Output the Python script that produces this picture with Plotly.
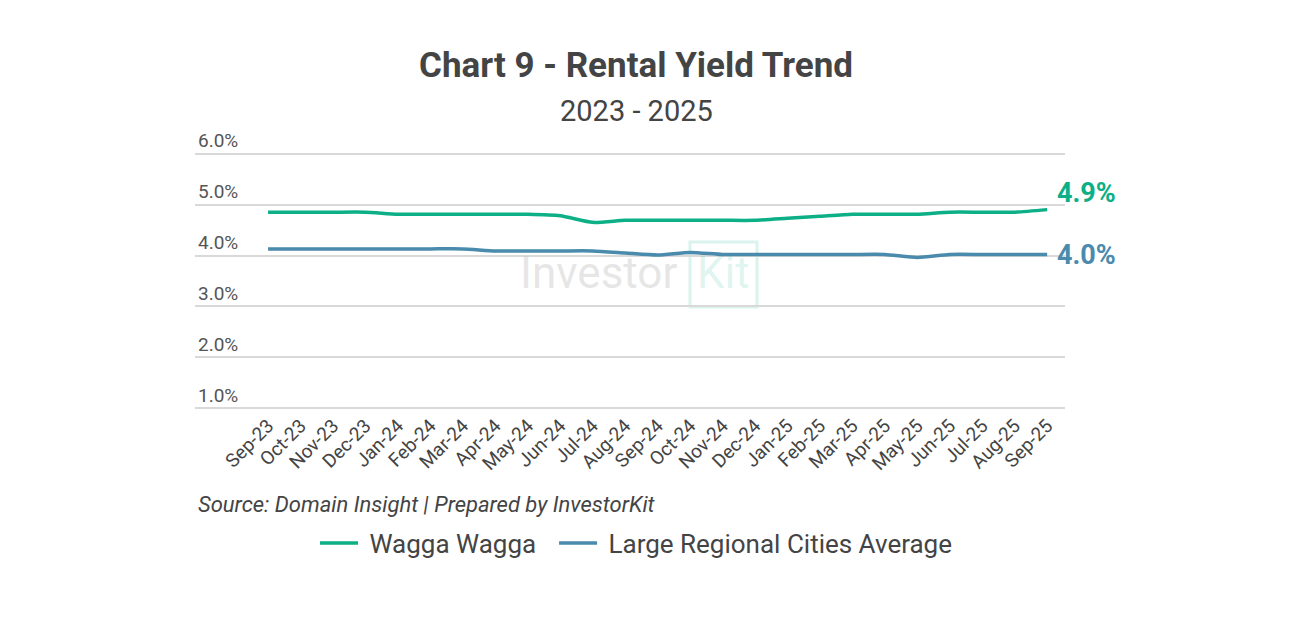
import plotly.graph_objects as go

months = ["Sep-23", "Oct-23", "Nov-23", "Dec-23", "Jan-24", "Feb-24", "Mar-24", "Apr-24",
          "May-24", "Jun-24", "Jul-24", "Aug-24", "Sep-24", "Oct-24", "Nov-24", "Dec-24",
          "Jan-25", "Feb-25", "Mar-25", "Apr-25", "May-25", "Jun-25", "Jul-25", "Aug-25", "Sep-25"]

wagga = [4.85, 4.85, 4.85, 4.85, 4.81, 4.81, 4.81, 4.81, 4.81, 4.78, 4.65, 4.69, 4.69,
         4.69, 4.69, 4.69, 4.73, 4.77, 4.81, 4.81, 4.81, 4.85, 4.85, 4.85, 4.9]

regional = [4.13, 4.13, 4.13, 4.13, 4.13, 4.13, 4.13, 4.09, 4.09, 4.09, 4.09, 4.05, 4.01,
            4.06, 4.02, 4.02, 4.02, 4.02, 4.02, 4.02, 3.96, 4.02, 4.02, 4.02, 4.02]

y_ticks = [1, 2, 3, 4, 5, 6]

GREEN = "#0CAF86"
BLUE = "#4A8BAD"
TEXT = "#444444"
FONT = "Roboto"
NB = "\u00a0"

# page offset (body margin) and figure size
OFF = 8
FW, FH = 1296 - 2 * OFF, 640 - 2 * OFF

# plot area in screen pixels
L, R, T, B = 195, 1065, 152, 410
W, H = R - L, B - T


def dx(px):
    return (px - L) / W


def dy(py):
    return (B - py) / H


fig = go.Figure()
fig.add_trace(go.Scatter(x=months, y=wagga, mode="lines", name=NB + "Wagga Wagga" + NB * 2,
                         line=dict(color=GREEN, width=3.5, shape="spline", smoothing=0.6)))
fig.add_trace(go.Scatter(x=months, y=regional, mode="lines",
                         name=NB + "Large Regional Cities Average",
                         line=dict(color=BLUE, width=3.5, shape="spline", smoothing=0.6)))

fig.add_annotation(x=months[-1], y=wagga[-1], text=f"<b>{wagga[-1]:.1f}%</b>", showarrow=False,
                   xanchor="left", xshift=8, yshift=17,
                   font=dict(family=FONT, size=27, color=GREEN))
fig.add_annotation(x=months[-1], y=regional[-1], text=f"<b>{regional[-1]:.1f}%</b>", showarrow=False,
                   xanchor="left", xshift=8, yshift=-1,
                   font=dict(family=FONT, size=27, color=BLUE))

# Watermark
fig.add_annotation(xref="x domain", yref="y domain", x=dx(598), y=dy(273), text="Investor",
                   showarrow=False, font=dict(family=FONT, size=44, color="rgba(200,200,200,0.45)"))
fig.add_annotation(xref="x domain", yref="y domain", x=dx(723), y=dy(273), text="Kit",
                   showarrow=False, font=dict(family=FONT, size=44, color="rgba(12,175,134,0.15)"))
fig.add_shape(type="rect", xref="x domain", yref="y domain",
              x0=dx(690), x1=dx(757), y0=dy(307), y1=dy(242),
              line=dict(color="rgba(12,175,134,0.15)", width=3), layer="below")

# Subtitle
fig.add_annotation(xref="x domain", yref="y domain", x=dx(636), y=dy(111),
                   text="2023 - 2025", showarrow=False, yanchor="middle",
                   font=dict(family=FONT, size=29, color=TEXT))

# Source
fig.add_annotation(xref="x domain", yref="y domain", x=dx(196), y=dy(504),
                   text="<i>Source: Domain Insight | Prepared by InvestorKit</i>", showarrow=False,
                   xanchor="left", yanchor="middle",
                   font=dict(family=FONT, size=22, color=TEXT))

fig.update_layout(
    width=FW, height=FH,
    paper_bgcolor="white", plot_bgcolor="white",
    margin=dict(l=L - OFF, r=FW - (R - OFF), t=T - OFF, b=FH - (B - OFF), autoexpand=False),
    font=dict(family=FONT, color=TEXT),
    title=dict(text="<b>Chart 9 - Rental Yield Trend</b>", x=(636 - OFF) / FW, xanchor="center",
               y=1 - 57 / FH, yanchor="middle",
               font=dict(family=FONT, size=35, color=TEXT)),
    showlegend=True,
    legend=dict(orientation="h", x=(636 - OFF) / FW, xanchor="center", y=1 - 535 / FH,
                yanchor="middle", xref="container", yref="container",
                font=dict(family=FONT, size=26, color=TEXT), itemwidth=38,
                traceorder="normal"),
)

fig.update_xaxes(range=[-2.25, 24.55], showgrid=False, showline=False, ticks="",
                 automargin=False,
                 tickangle=-45, tickfont=dict(family=FONT, size=19, color=TEXT))
fig.update_yaxes(range=[0.97, 6.03], tickvals=y_ticks, ticktext=[f"{v:.1f}%" for v in y_ticks],
                 showgrid=True, gridcolor="#d9d9d9", gridwidth=1.5, zeroline=False,
                 showline=False, ticks="", ticklabelposition="inside top",
                 ticklabeloverflow="allow", ticklabelstandoff=0, automargin=False,
                 tickfont=dict(family=FONT, size=19, color="#555555"))

fig.write_html("out.html")
